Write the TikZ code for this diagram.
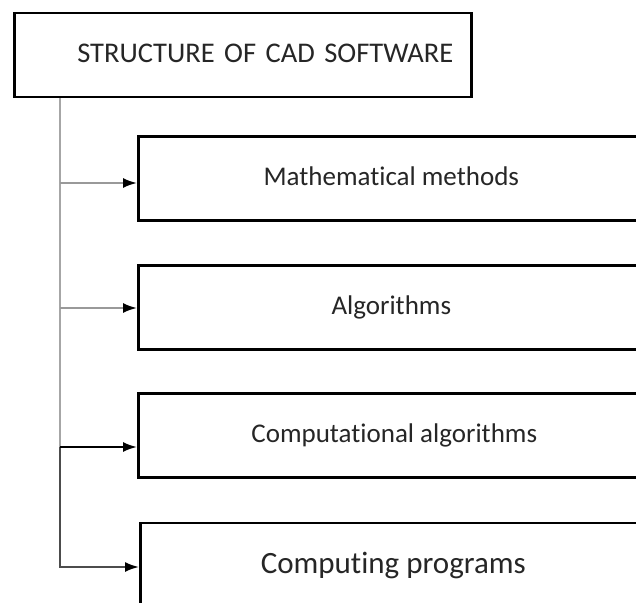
\documentclass[tikz,border=0pt]{standalone}
\usepackage{fontspec}
\setmainfont{Carlito}[Ligatures=NoCommon]
\usetikzlibrary{arrows.meta}

\begin{document}
\begin{tikzpicture}[x=1pt, y=-1pt,
  box/.style={draw=black, line width=2.6pt, rectangle, minimum height=84pt, inner sep=0pt,
    text=black!85, text height=19pt, text depth=5pt},
  link/.style={line width=2pt, gray!80, -{Latex[length=14pt,width=10pt,black]}}]

\useasboundingbox (0,0) rectangle (636,602);
\clip (0,0) rectangle (636,602);
\fill[white] (0,0) rectangle (636,602);

%Otsikko
\node[box, anchor=west, minimum width=457pt, text width=421pt, align=right, inner xsep=18pt,
  font=\fontsize{28.5}{30}\selectfont] (top) at (13,55) {STRUCTURE OF CAD SOFTWARE};

%Laatikot
\node[box, anchor=west, minimum width=506pt, font=\fontsize{27}{29}\selectfont] (methods) at (137,178.5) {Mathematical methods};
\node[box, anchor=west, minimum width=506pt, font=\fontsize{27}{29}\selectfont] (algorithms) at (137,307.5) {Algorithms};
\node[box, anchor=west, minimum width=512pt, font=\fontsize{27}{29}\selectfont] (computational) at (137,435.5) {Computational algorithms};
\node[box, anchor=west, minimum width=506pt, minimum height=85pt, text height=21pt, text depth=6pt,
  font=\fontsize{31}{33}\selectfont] (programs) at (139,565.5) {Computing programs};

%Runko ja nuolet
\coordinate (s1) at (60,183);
\coordinate (s2) at (60,308);
\coordinate (s3) at (60,447);
\coordinate (s4) at (60,567);
\draw[line width=2pt, gray!70] (top.south -| s1) -- (s3);
\draw[link, gray!60!black] (s3) -- (s4) -- (s4 -| programs.west);
\foreach \s/\b in {s1/methods, s2/algorithms}
	\draw[link] (\s) -- (\s -| \b.west);
\draw[link, black] (s3) -- (s3 -| computational.west);

\end{tikzpicture}
\end{document}
